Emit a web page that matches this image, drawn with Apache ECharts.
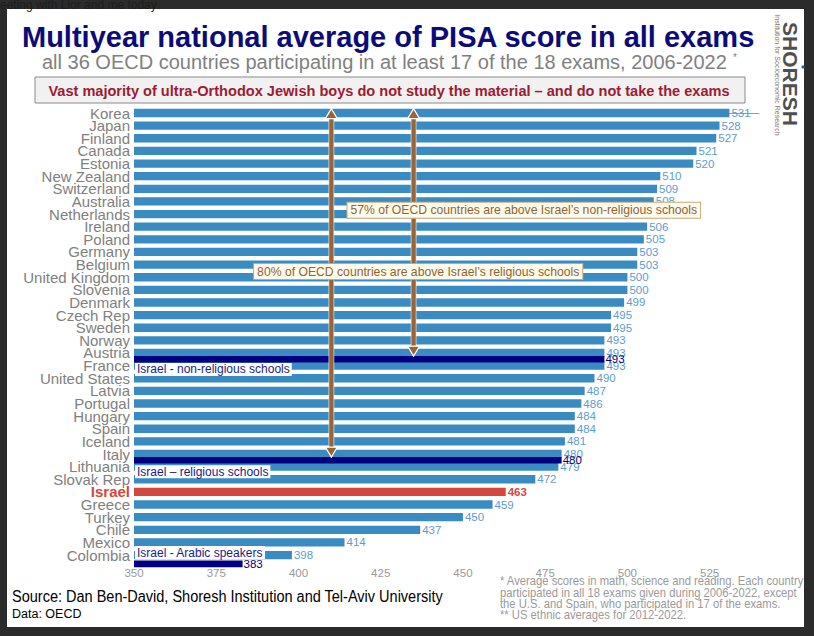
<!DOCTYPE html>
<html>
<head>
<meta charset="utf-8">
<script src="https://cdn.jsdelivr.net/npm/echarts@6/dist/echarts.min.js"></script>
<style>
  html, body { margin: 0; padding: 0; background: #2b2b2b; }
  #chart { width: 814px; height: 636px; }
</style>
</head>
<body>
<div id="chart"></div>
<script>
// data
var countries = ['Korea', 'Japan', 'Finland', 'Canada', 'Estonia', 'New Zealand', 'Switzerland', 'Australia',
  'Netherlands', 'Ireland', 'Poland', 'Germany', 'Belgium', 'United Kingdom', 'Slovenia', 'Denmark',
  'Czech Rep', 'Sweden', 'Norway', 'Austria', 'France', 'United States', 'Latvia', 'Portugal', 'Hungary',
  'Spain', 'Iceland', 'Italy', 'Lithuania', 'Slovak Rep', 'Israel', 'Greece', 'Turkey', 'Chile', 'Mexico',
  'Colombia'];
var scores = [531, 528, 527, 521, 520, 510, 509, 508, 507, 506, 505, 503, 503, 500, 500, 499, 495, 495, 493,
  493, 493, 490, 487, 486, 484, 484, 481, 480, 479, 472, 463, 459, 450, 437, 414, 398];

// Israeli sub-groups, drawn between rows
var groupNames = ['Israel - non-religious schools', 'Israel \u2013 religious schools', 'Israel - Arabic speakers'];
var groupScores = [493, 480, 383];
var groupRows = [19.5, 27.5, 35.7];

// brown arrows: x position (score) and which sub-group they point to
var arrowScores = [410, 435];
var arrowTargets = [1, 0];

var notes = ['57% of OECD countries are above Israel\u2019s non-religious schools',
  '80% of OECD countries are above Israel\u2019s religious schools'];
var notePos = [[468.5, 7.7], [436.4, 12.55]];

var xTicks = { min: 350, max: 540, step: 25 };

var SANS = "'Liberation Sans', Arial, sans-serif";
var BLUE = '#3a8bc2';
var NAVY = '#000080';
var RED = '#d4473e';
var BROWN = '#9a6434';

var chart = echarts.init(document.getElementById('chart'), null, { renderer: 'svg' });

function countryBar(params, api) {
	var v = api.value(0), row = api.value(1);
	var p0 = api.coord([xTicks.min, row]);
	var p1 = api.coord([v, row]);
	var h = api.size([0, 1])[1] * 0.66;
	var isIl = countries[params.dataIndex] === 'Israel';
	return {
		type: 'rect',
		shape: { x: p0[0], y: p0[1] - h / 2, width: p1[0] - p0[0], height: h },
		style: { fill: isIl ? RED : BLUE },
		textContent: {
			style: {
				text: String(v),
				fill: isIl ? RED : '#5b9dd0',
				font: (isIl ? 'bold ' : '') + '11.5px ' + SANS
			}
		},
		textConfig: { position: 'right', distance: 2 }
	};
}

// label of each sub-group sits a bit below (or above, for the last one) its bar
var groupLabelShift = [0.8, 0.9, -0.9];

function groupBar(params, api) {
	var i = params.dataIndex;
	var v = api.value(0), row = api.value(1);
	var p0 = api.coord([xTicks.min, row]);
	var p1 = api.coord([v, row]);
	var h = api.size([0, 1])[1] * 0.52;
	var lp = api.coord([xTicks.min, row + groupLabelShift[i]]);
	return {
		type: 'group',
		children: [{
			type: 'rect',
			shape: { x: p0[0], y: p0[1] - h / 2, width: p1[0] - p0[0], height: h },
			style: { fill: NAVY },
			textContent: {
				style: { text: String(v), fill: NAVY, font: '11.5px ' + SANS }
			},
			textConfig: { position: 'right', distance: 1 }
		}, {
			type: 'text',
			x: lp[0] + 1,
			y: lp[1],
			style: {
				text: groupNames[i],
				fill: '#1c1c7c',
				font: '12px ' + SANS,
				backgroundColor: '#fff',
				padding: [1, 2, 0, 2],
				verticalAlign: 'middle'
			}
		}]
	};
}

function arrow(params, api) {
	var i = params.dataIndex;
	var x = api.value(0);
	var top = api.coord([x, -0.35]);
	var bottom = api.coord([x, groupRows[arrowTargets[i]] - 0.25]);
	var hw = 6, hl = 10;
	return {
		type: 'group',
		children: [{
			type: 'rect',
			shape: { x: top[0] - 2.5, y: top[1] + hl - 1, width: 5, height: bottom[1] - top[1] - 2 * hl + 2 },
			style: { fill: BROWN, stroke: 'rgba(255,255,255,0.7)', lineWidth: 0.8 }
		}, {
			type: 'polygon',
			shape: { points: [[top[0], top[1]], [top[0] - hw, top[1] + hl], [top[0] + hw, top[1] + hl]] },
			style: { fill: BROWN, stroke: '#fff', lineWidth: 1.2 }
		}, {
			type: 'polygon',
			shape: { points: [[bottom[0], bottom[1]], [bottom[0] - hw, bottom[1] - hl], [bottom[0] + hw, bottom[1] - hl]] },
			style: { fill: BROWN, stroke: '#fff', lineWidth: 1.2 }
		}]
	};
}

function noteBox(params, api) {
	var p = api.coord([api.value(0), api.value(1)]);
	return {
		type: 'text',
		x: p[0],
		y: p[1],
		style: {
			text: notes[params.dataIndex],
			fill: '#8d6439',
			font: '12.2px ' + SANS,
			align: 'center',
			verticalAlign: 'middle',
			backgroundColor: '#fffbea',
			borderColor: '#c9a878',
			borderWidth: 1,
			padding: [2, 3, 1, 3]
		}
	};
}

var footLines = ['* Average scores in math, science and reading. Each country',
	'participated in all 18 exams given during 2006-2022, except',
	'the U.S. and Spain, who participated in 17 of the exams.',
	'** US ethnic averages for 2012-2022.'];

var graphics = [
	{ type: 'rect', shape: { x: 7, y: 9, width: 797, height: 618 }, style: { fill: '#fff' }, z: -10 },
	{ type: 'text', x: 0, y: 5, style: { text: 'eeting with Lior and me today', fill: '#1d1d1d', font: '12px ' + SANS, verticalAlign: 'middle' }, z: -9 },
	{ type: 'text', x: 22, y: 37, style: { text: 'Multiyear national average of PISA score in all exams', fill: '#0c0c78', font: 'bold 29px ' + SANS, verticalAlign: 'middle' } },
	{ type: 'text', x: 42, y: 62, style: { text: 'all 36 OECD countries participating in at least 17 of the 18 exams, 2006-2022', fill: '#808080', font: '20px ' + SANS, verticalAlign: 'middle' } },
	{ type: 'text', x: 733, y: 57, style: { text: '*', fill: '#808080', font: '10px ' + SANS, verticalAlign: 'middle' } },
	{ type: 'rect', shape: { x: 35, y: 77, width: 710, height: 26 }, style: { fill: '#f1f1f1', stroke: '#8a8a8a', lineWidth: 1 } },
	{ type: 'text', x: 389, y: 90, scaleX: 0.94, style: { text: 'Vast majority of ultra-Orthodox Jewish boys do not study the material \u2013 and do not take the exams', fill: '#9e1a33', font: 'bold 15.5px ' + SANS, align: 'center', verticalAlign: 'middle' } },
	{ type: 'text', x: 790, y: 74, rotation: -Math.PI / 2, style: { text: 'SHORESH', fill: '#4f4f4f', font: 'bold 21px ' + SANS, align: 'center', verticalAlign: 'middle' } },
	{ type: 'text', x: 777, y: 75, rotation: -Math.PI / 2, style: { text: 'Institution for Socioeconomic Research', fill: '#777', font: '7px ' + SANS, align: 'center', verticalAlign: 'middle' } },
	{ type: 'circle', shape: { cx: 803, cy: 67, r: 1.6 }, style: { fill: '#1f5fa8' } },
	{ type: 'text', x: 12, y: 596, scaleX: 0.907, style: { text: 'Source: Dan Ben-David, Shoresh Institution and Tel-Aviv University', fill: '#000', font: '16px ' + SANS, verticalAlign: 'middle' } },
	{ type: 'text', x: 12, y: 614, style: { text: 'Data: OECD', fill: '#000', font: '12.5px ' + SANS, verticalAlign: 'middle' } }
];
footLines.forEach(function (t, i) {
	graphics.push({ type: 'text', x: 500, y: 581 + i * 11.3, scaleX: 0.9, style: { text: t, fill: '#9a9a9a', font: '12.5px ' + SANS, verticalAlign: 'middle' } });
});

chart.setOption({
	animation: false,
	grid: { left: 134, right: 55, top: 100.4, bottom: 74, containLabel: false },
	xAxis: {
		type: 'value',
		min: xTicks.min,
		max: xTicks.max,
		interval: xTicks.step,
		axisLine: { lineStyle: { color: '#999' } },
		axisTick: { show: true, length: 4, lineStyle: { color: '#999' } },
		axisLabel: { color: '#999', fontFamily: SANS, fontSize: 11.5, margin: 5, showMaxLabel: false },
		splitLine: { show: false }
	},
	yAxis: {
		type: 'value',
		inverse: true,
		min: -1,
		max: 35.55,
		interval: 1,
		axisLine: { show: false },
		axisTick: { show: false },
		splitLine: { show: false },
		axisLabel: {
			showMinLabel: false,
			showMaxLabel: false,
			margin: 4,
			color: '#808080',
			fontFamily: SANS,
			fontSize: 15,
			formatter: function (v) {
				var r = Math.round(v);
				if (Math.abs(v - r) > 1e-6 || !countries[r]) return '';
				return countries[r] === 'Israel' ? '{il|Israel}' : countries[r];
			},
			rich: { il: { color: RED, fontWeight: 'bold', fontSize: 15, fontFamily: SANS } }
		}
	},
	graphic: graphics,
	series: [{
		type: 'custom',
		z: 2,
		renderItem: countryBar,
		encode: { x: 0, y: 1 },
		data: scores.map(function (s, i) { return [s, i]; })
	}, {
		type: 'custom',
		z: 3,
		renderItem: groupBar,
		encode: { x: 0, y: 1 },
		data: groupScores.map(function (s, i) { return [s, groupRows[i]]; })
	}, {
		type: 'custom',
		z: 4,
		renderItem: arrow,
		encode: { x: 0 },
		data: arrowScores.map(function (s) { return [s]; })
	}, {
		type: 'custom',
		z: 5,
		renderItem: noteBox,
		encode: { x: 0, y: 1 },
		data: notePos
	}]
});
</script>
</body>
</html>
